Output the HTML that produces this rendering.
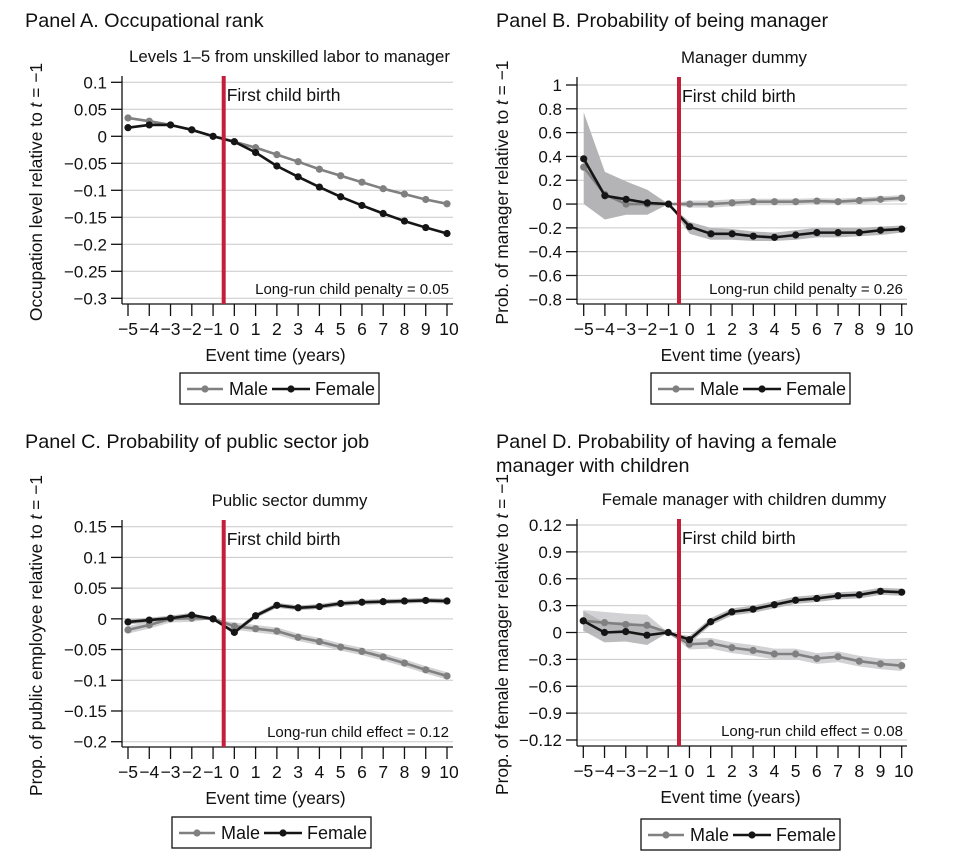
<!DOCTYPE html>
<html><head><meta charset="utf-8"><style>
html,body{margin:0;padding:0;background:#fff;}
svg{display:block;font-family:"Liberation Sans",Arial,sans-serif;}
</style></head><body>
<svg id="s" width="974" height="867" viewBox="0 0 974 867" xmlns="http://www.w3.org/2000/svg">
<text x="25" y="27" font-size="19.8" fill="#111">Panel A. Occupational rank</text>
<text x="496" y="27" font-size="19.8" fill="#111">Panel B. Probability of being manager</text>
<text x="25" y="448" font-size="19.8" fill="#111">Panel C. Probability of public sector job</text>
<text x="496" y="448" font-size="19.8" fill="#111">Panel D. Probability of having a female</text>
<text x="496" y="472" font-size="19.8" fill="#111">manager with children</text>
</svg>
<script>
var S=document.getElementById('s');var NS='http://www.w3.org/2000/svg';
function el(t,a,txt){var e=document.createElementNS(NS,t);for(var k in a)e.setAttribute(k,a[k]);if(txt!==undefined)e.textContent=txt;S.appendChild(e);return e;}
function fmt(s){return s.replace(/-/g,'\u2212');}
function panel(p){
 var X=function(t){return p.x0+(t+5)*(p.x1-p.x0)/15;};
 var Y=function(v){return p.yt+(p.vt-v)*(p.yb-p.yt)/(p.vt-p.vb);};
 p.ticks.forEach(function(tk){var y=Y(tk[0]);
  el('line',{x1:p.L,x2:p.R,y1:y,y2:y,stroke:'#c8c8c8','stroke-width':1});
  el('line',{x1:p.L-11,x2:p.L,y1:y,y2:y,stroke:'#111','stroke-width':1.3});
  el('text',{x:p.L-15,y:y+6,'font-size':17,'text-anchor':'end',fill:'#111'},fmt(tk[1]));});
 p.bands.forEach(function(b){var up=[],lo=[];
  for(var i=0;i<b.t.length;i++){up.push(X(b.t[i])+','+Y(b.u[i]));lo.unshift(X(b.t[i])+','+Y(b.l[i]));}
  el('polygon',{points:up.concat(lo).join(' '),fill:b.c,'fill-opacity':b.o||1});});
 el('line',{x1:p.L,x2:p.L,y1:p.T,y2:p.B,stroke:'#111','stroke-width':1.3});
 el('line',{x1:p.L,x2:p.R,y1:p.B,y2:p.B,stroke:'#111','stroke-width':1.3});
 for(var t=-5;t<=10;t++){var x=X(t);
  el('line',{x1:x,x2:x,y1:p.B,y2:p.B+12,stroke:'#111','stroke-width':1.3});
  el('text',{x:x+(t==10?2:0),y:p.B+31,'font-size':17.5,'text-anchor':'middle',fill:'#111'},fmt(String(t)));}
 [[p.m,'#808080'],[p.f,'#151515']].forEach(function(s){
  var pts=s[0].map(function(v,i){return X(i-5)+','+Y(v);}).join(' ');
  el('polyline',{points:pts,fill:'none',stroke:s[1],'stroke-width':2.6,'stroke-linejoin':'round'});
  s[0].forEach(function(v,i){el('circle',{cx:X(i-5),cy:Y(v),r:3.6,fill:s[1]});});});
 el('line',{x1:p.red,x2:p.red,y1:p.T,y2:p.B,stroke:'#c41e3a','stroke-width':4});
 el('text',{x:p.red+3,y:p.T+25,'font-size':17.5,fill:'#111'},'First child birth');
 el('text',{x:p.R-4,y:p.B-10,'font-size':15,'text-anchor':'end',fill:'#111'},p.note);
 el('text',{x:(p.L+p.R)/2+2,y:p.T-14,'font-size':16.8,'text-anchor':'middle',fill:'#111'},p.sub);
 el('text',{x:(p.x0+p.x1)/2-12,y:p.B+57,'font-size':17.3,'text-anchor':'middle',fill:'#111'},'Event time (years)');
 var yl=el('text',{transform:'translate('+p.ylx+','+((p.T+p.B)/2+2)+') rotate(-90)','font-size':17.4,'text-anchor':'middle',fill:'#111'});
 yl.textContent=p.yl+' relative to ';var ti=document.createElementNS(NS,'tspan');ti.setAttribute('font-style','italic');ti.textContent='t';yl.appendChild(ti);
 var t2=document.createElementNS(NS,'tspan');t2.textContent=' = \u22121';yl.appendChild(t2);
 var lx=p.lg[0],ly=p.lg[1];
 el('rect',{x:lx,y:ly,width:199,height:31,fill:'#fff',stroke:'#111','stroke-width':1.3});
 el('line',{x1:lx+7,x2:lx+43,y1:ly+16,y2:ly+16,stroke:'#808080','stroke-width':2.6});
 el('circle',{cx:lx+25,cy:ly+16,r:3.6,fill:'#808080'});
 el('text',{x:lx+49,y:ly+22,'font-size':18,fill:'#111'},'Male');
 el('line',{x1:lx+92,x2:lx+130,y1:ly+16,y2:ly+16,stroke:'#151515','stroke-width':2.6});
 el('circle',{cx:lx+111,cy:ly+16,r:3.6,fill:'#151515'});
 el('text',{x:lx+135,y:ly+22,'font-size':18,fill:'#111'},'Female');
}
function around(arr,w){return {u:arr.map(function(v,i){return v+w(i);}),l:arr.map(function(v,i){return v-w(i);})};}
var T16=[];for(var i=-5;i<=10;i++)T16.push(i);
function band(arr,w,c,o){var b=around(arr,w);return {t:T16,u:b.u,l:b.l,c:c,o:o};}

var A={L:122,R:453,T:76,B:304,x0:128,x1:447,vt:0.1,yt:82.3,vb:-0.3,yb:298.3,red:223.7,
 ticks:[[0.1,'0.1'],[0.05,'0.05'],[0,'0'],[-0.05,'-0.05'],[-0.1,'-0.1'],[-0.15,'-0.15'],[-0.2,'-0.2'],[-0.25,'-0.25'],[-0.3,'-0.3']],
 m:[0.034,0.028,0.021,0.012,0,-0.01,-0.021,-0.034,-0.047,-0.061,-0.073,-0.085,-0.097,-0.107,-0.117,-0.125],
 f:[0.016,0.021,0.021,0.012,0,-0.01,-0.03,-0.055,-0.075,-0.094,-0.112,-0.128,-0.143,-0.157,-0.169,-0.18],
 bands:[],note:'Long-run child penalty = 0.05',sub:'Levels 1\u20135 from unskilled labor to manager',
 yl:'Occupation level',ylx:42,lg:[180,373]};
panel(A);
var B={L:577,R:907,T:77,B:304,x0:583.7,x1:901.7,vt:1,yt:85,vb:-0.8,yb:299.3,red:679,
 ticks:[[1,'1'],[0.8,'0.8'],[0.6,'0.6'],[0.4,'0.4'],[0.2,'0.2'],[0,'0'],[-0.2,'-0.2'],[-0.4,'-0.4'],[-0.6,'-0.6'],[-0.8,'-0.8']],
 m:[0.31,0.08,0,0,0,0,0,0.01,0.02,0.02,0.02,0.025,0.02,0.03,0.04,0.05],
 f:[0.38,0.07,0.04,0.01,0,-0.19,-0.25,-0.25,-0.27,-0.28,-0.26,-0.24,-0.24,-0.24,-0.22,-0.21],
 bands:[{t:[-5,-4,-3,-2,-1],u:[0.77,0.27,0.19,0.12,0],l:[0,-0.13,-0.09,-0.09,0],c:'#b4b4b6'},
  {t:[-1,0,1,2,3,4,5,6,7,8,9,10],u:[0,-0.15,-0.2,-0.21,-0.23,-0.24,-0.22,-0.2,-0.2,-0.2,-0.19,-0.18],l:[0,-0.25,-0.3,-0.3,-0.31,-0.31,-0.3,-0.28,-0.28,-0.27,-0.26,-0.24],c:'#b8b8ba'},
  {t:[-1,0,1,2,3,4,5,6,7,8,9,10],u:[0,0.03,0.03,0.04,0.045,0.045,0.045,0.05,0.045,0.055,0.065,0.075],l:[0,-0.03,-0.03,-0.02,-0.01,-0.01,-0.01,0,-0.005,0.005,0.015,0.025],c:'#d4d4d6'}],
 note:'Long-run child penalty = 0.26',sub:'Manager dummy',yl:'Prob. of manager',ylx:508,lg:[651,373]};
panel(B);
var C={L:122,R:453,T:520,B:747,x0:128,x1:447,vt:0.15,yt:526.7,vb:-0.2,yb:741.7,red:223.7,
 ticks:[[0.15,'0.15'],[0.1,'0.1'],[0.05,'0.05'],[0,'0'],[-0.05,'-0.05'],[-0.1,'-0.1'],[-0.15,'-0.15'],[-0.2,'-0.2']],
 m:[-0.018,-0.01,0,0.001,0,-0.012,-0.016,-0.02,-0.03,-0.037,-0.046,-0.053,-0.062,-0.072,-0.083,-0.093],
 f:[-0.005,-0.002,0.001,0.006,0,-0.022,0.005,0.022,0.018,0.02,0.025,0.027,0.028,0.029,0.03,0.029],
 bands:[], note:'Long-run child effect = 0.12',sub:'Public sector dummy',yl:'Prop. of public employee',ylx:42,lg:[172,817]};
C.bands=[band(C.m,function(i){return i==4?0:0.006;},'#d2d2d4'),band(C.f,function(i){return i==4?0:0.004;},'#b8b8ba')];
panel(C);
var D={L:577,R:907,T:519,B:746,x0:583.3,x1:901.7,vt:0.12,yt:525,vb:-0.12,yb:740,red:679,
 ticks:[[0.12,'0.12'],[0.09,'0.9'],[0.06,'0.6'],[0.03,'0.3'],[0,'0'],[-0.03,'-0.3'],[-0.06,'-0.6'],[-0.09,'-0.9'],[-0.12,'-0.12']],
 m:[0.013,0.011,0.009,0.008,0,-0.013,-0.012,-0.017,-0.02,-0.024,-0.024,-0.029,-0.027,-0.032,-0.035,-0.037],
 f:[0.013,0,0.001,-0.003,0,-0.008,0.012,0.023,0.026,0.031,0.036,0.038,0.041,0.042,0.046,0.045],
 bands:[],note:'Long-run child effect = 0.08',sub:'Female manager with children dummy',yl:'Prop. of female manager',ylx:508,lg:[641,819]};
D.bands=[band(D.m,function(i){return i==4?0:(i<4?0.012:0.006);},'#d2d2d4'),band(D.f,function(i){return i==4?0:(i<4?0.011:0.004);},'#b4b4b6',0.9)];
panel(D);
</script>
</body></html>
